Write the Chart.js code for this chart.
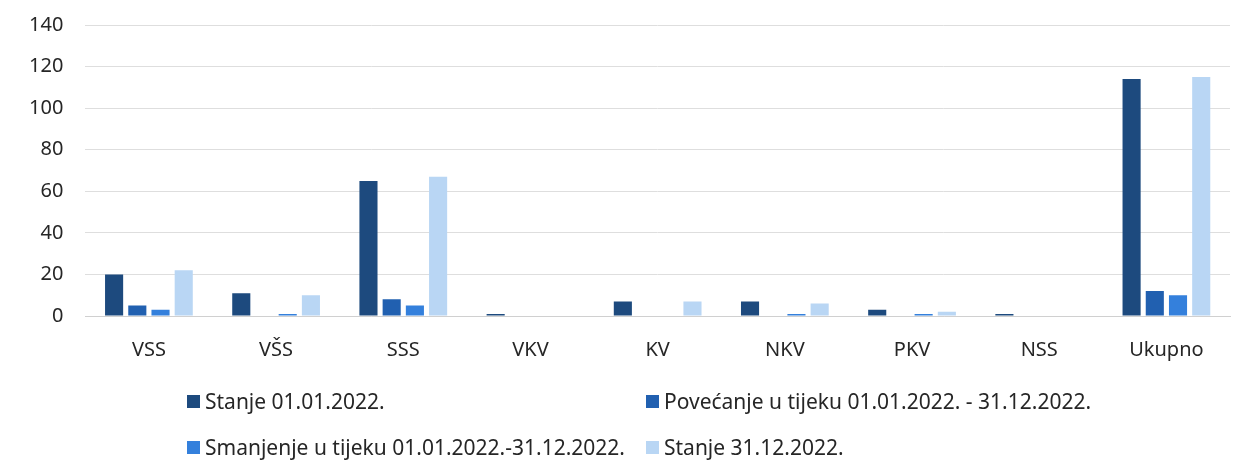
<!DOCTYPE html>
<html>
<head>
<meta charset="utf-8">
<script src="https://cdn.jsdelivr.net/npm/chart.js@4"></script>
<style>
  html, body { margin: 0; padding: 0; background: #ffffff; }
  #wrap { position: relative; width: 1258px; height: 475px; }
  #c { position: absolute; left: 0; top: 0; }
  .lg { position: absolute; font-family: "Noto Sans", sans-serif; font-size: 21px; color: #262626; white-space: nowrap; line-height: 24px; }
  .lg .box { display: inline-block; width: 13px; height: 13px; margin-right: 5px; vertical-align: 1px; }
</style>
</head>
<body>
<div id="wrap">
  <canvas id="c" width="1258" height="475"></canvas>
  <div id="legend"></div>
</div>
<script>
const categories = ['VSS', 'VŠS', 'SSS', 'VKV', 'KV', 'NKV', 'PKV', 'NSS', 'Ukupno'];
const seriesNames = [
  'Stanje 01.01.2022.',
  'Povećanje u tijeku 01.01.2022. - 31.12.2022.',
  'Smanjenje u tijeku 01.01.2022.-31.12.2022.',
  'Stanje 31.12.2022.'
];
const stanje01 = [20, 11, 65, 1, 7, 7, 3, 1, 114];
const povecanje = [5, 0, 8, 0, 0, 0, 0, 0, 12];
const smanjenje = [3, 1, 5, 0, 0, 1, 1, 0, 10];
const stanje31 = [22, 10, 67, 0, 7, 6, 2, 0, 115];
const yTicks = [0, 20, 40, 60, 80, 100, 120, 140];

const colors = ['#1d4a7e', '#2160b0', '#3480dc', '#b9d6f4'];
const seriesData = [stanje01, povecanje, smanjenje, stanje31];

const chart = new Chart(document.getElementById('c'), {
  type: 'bar',
  data: {
    labels: categories,
    datasets: seriesData.map((d, i) => ({
      label: seriesNames[i],
      data: d,
      backgroundColor: colors[i],
      borderWidth: 0,
      categoryPercentage: 0.73,
      barPercentage: 0.78
    }))
  },
  options: {
    responsive: false,
    animation: false,
    layout: { padding: { left: 7, right: 28, top: 25, bottom: 91 } },
    plugins: {
      legend: { display: false },
      tooltip: { enabled: false }
    },
    scales: {
      x: {
        grid: { display: false, drawTicks: false },
        border: { display: true, color: '#d0d0d0', width: 1 },
        ticks: {
          color: '#262626',
          font: { family: 'Noto Sans', size: 20 },
          padding: 22
        }
      },
      y: {
        min: 0,
        max: 140,
        afterBuildTicks: (axis) => { axis.ticks = yTicks.map(v => ({ value: v })); },
        afterFit: (axis) => { axis.paddingTop = 0; axis.paddingBottom = 0; },
        grid: { color: '#dedede', lineWidth: 1, drawTicks: false },
        border: { display: false },
        ticks: {
          color: '#262626',
          font: { family: 'Noto Sans', size: 20 },
          padding: 22
        }
      }
    }
  }
});

// HTML legend built from the chart's own legend items
const legendPos = [
  { left: 187, top: 389 },
  { left: 646, top: 389 },
  { left: 187, top: 435 },
  { left: 646, top: 435 }
];
const items = chart.options.plugins.legend.labels.generateLabels(chart);
const lg = document.getElementById('legend');
items.forEach((it, i) => {
  const d = document.createElement('div');
  d.className = 'lg';
  d.style.left = legendPos[i].left + 'px';
  d.style.top = legendPos[i].top + 'px';
  const b = document.createElement('span');
  b.className = 'box';
  b.style.background = it.fillStyle;
  d.appendChild(b);
  d.appendChild(document.createTextNode(it.text));
  lg.appendChild(d);
});
</script>
</body>
</html>
